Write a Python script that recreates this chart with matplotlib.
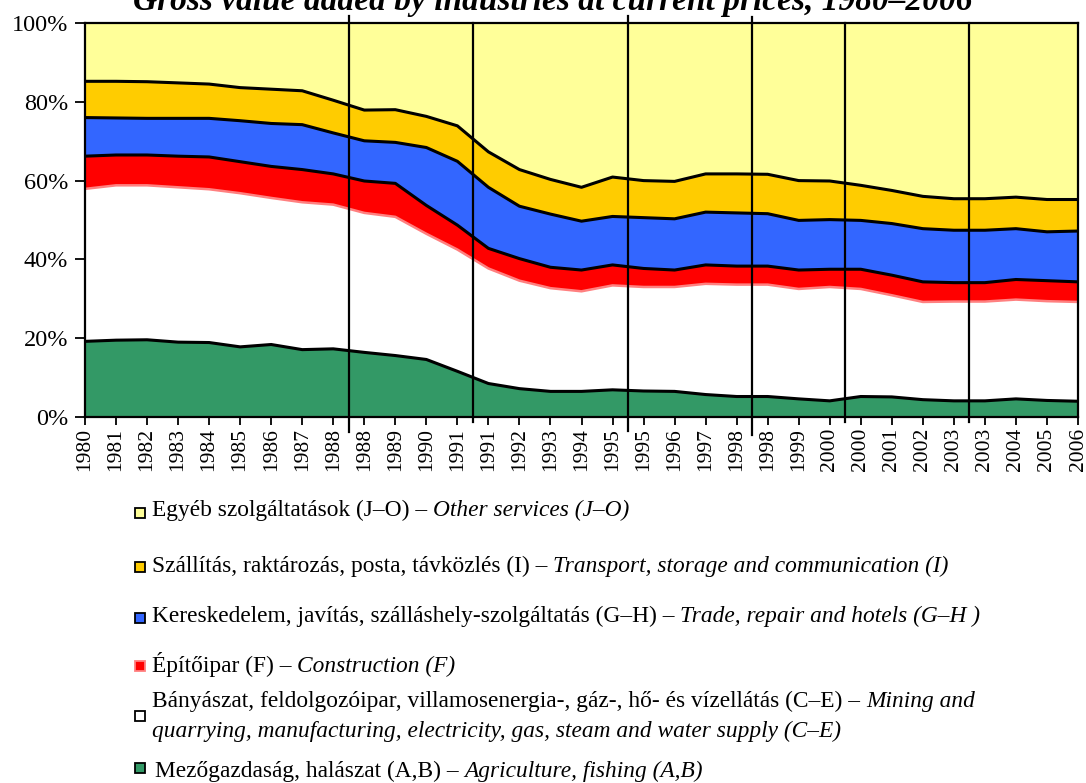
import numpy as np
import matplotlib
matplotlib.use('Agg')
import matplotlib.pyplot as plt
from matplotlib.patches import Rectangle

plt.rcParams['font.family'] = ['Liberation Serif', 'DejaVu Serif']

# category axis (duplicate years = break in the series)
years = ['1980', '1981', '1982', '1983', '1984', '1985', '1986', '1987', '1988',
         '1988', '1989', '1990', '1991',
         '1991', '1992', '1993', '1994', '1995',
         '1995', '1996', '1997', '1998',
         '1998', '1999', '2000',
         '2000', '2001', '2002', '2003',
         '2003', '2004', '2005', '2006']

# shares of gross value added, %
agri = [19.2, 19.5, 19.6, 19.0, 18.9, 17.8, 18.4, 17.1, 17.3,
        16.4, 15.6, 14.6, 11.6,
        8.5, 7.2, 6.5, 6.5, 6.9,
        6.6, 6.5, 5.7, 5.2,
        5.2, 4.6, 4.1,
        5.2, 5.1, 4.4, 4.1,
        4.1, 4.6, 4.2, 4.0]
mining = [38.7, 39.3, 39.2, 39.3, 38.9, 39.0, 37.2, 37.4, 36.6,
          35.4, 35.2, 31.9, 30.9,
          29.2, 27.4, 26.2, 25.4, 26.5,
          26.4, 26.5, 28.1, 28.4,
          28.4, 27.9, 28.9,
          27.3, 25.8, 24.8, 25.2,
          25.2, 25.2, 25.2, 25.2]
constr = [8.3, 7.7, 7.7, 7.9, 8.2, 8.0, 8.0, 8.3, 7.8,
          8.1, 8.5, 7.2, 6.2,
          5.1, 5.6, 5.3, 5.4, 5.2,
          4.7, 4.3, 4.8, 4.7,
          4.7, 4.8, 4.5,
          5.0, 5.1, 5.1, 4.8,
          4.8, 5.1, 5.2, 5.1]
trade = [9.8, 9.4, 9.3, 9.6, 9.8, 10.4, 10.9, 11.4, 10.4,
         10.2, 10.4, 14.7, 16.2,
         15.5, 13.3, 13.5, 12.4, 12.3,
         12.9, 13.0, 13.4, 13.5,
         13.3, 12.6, 12.6,
         12.4, 13.1, 13.5, 13.3,
         13.3, 12.9, 12.4, 12.9]
transport = [9.2, 9.3, 9.3, 9.0, 8.7, 8.4, 8.7, 8.6, 8.3,
             7.8, 8.3, 7.9, 9.0,
             9.0, 9.3, 8.8, 8.6, 10.0,
             9.4, 9.5, 9.7, 9.9,
             10.0, 10.1, 9.8,
             8.9, 8.4, 8.2, 8.0,
             8.0, 8.0, 8.2, 8.0]
other = [14.8, 14.8, 14.9, 15.2, 15.5, 16.4, 16.8, 17.2, 19.6,
         22.1, 22.0, 23.7, 26.1,
         32.7, 37.2, 39.7, 41.7, 39.1,
         40.0, 40.2, 38.3, 38.3,
         38.4, 40.0, 40.1,
         41.2, 42.5, 44.0, 44.6,
         44.6, 44.2, 44.8, 44.8]

legend_rows = [
    ('Egyéb szolgáltatások (J–O) –', 'Other services (J–O)'),
    ('Szállítás, raktározás, posta, távközlés (I) –', 'Transport, storage and communication (I)'),
    ('Kereskedelem, javítás, szálláshely-szolgáltatás (G–H) –', 'Trade, repair and hotels (G–H )'),
    ('Építőipar (F) –', 'Construction (F)'),
    ('Bányászat, feldolgozóipar, villamosenergia-, gáz-, hő- és vízellátás (C–E) –', 'Mining and'),
    ('Mezőgazdaság, halászat (A,B) –', 'Agriculture, fishing (A,B)'),
]
mining_line2 = 'quarrying, manufacturing, electricity, gas, steam and water supply (C–E)'
title = 'Gross value added by industries at current prices, 1980–2006'

colors = ['#339966', '#FFFFFF', '#FF0000', '#3366FF', '#FFCC00', '#FFFF99']
legend_colors = ['#FFFF99', '#FFCC00', '#3366FF', '#FF0000', '#FFFFFF', '#339966']
legend_edges = ['k', 'k', 'k', '#FF8080', 'k', 'k']

W, H = 1086, 783
fig = plt.figure(figsize=(W / 100, H / 100), dpi=100)
ax = fig.add_axes([85 / W, 1 - 417 / H, (1078 - 85) / W, (417 - 23) / H])

x = np.arange(len(years))
series = [agri, mining, constr, trade, transport, other]
ax.stackplot(x, *series, colors=colors, linewidth=0)
cum = np.cumsum(np.array(series), axis=0)
for k in [0, 2, 3, 4]:
    ax.plot(x, cum[k], color='k', lw=2.2, solid_joinstyle='round')
ax.plot(x, cum[1], color='#FF8080', lw=1.8)

ax.set_xlim(0, len(years) - 1)
ax.set_ylim(0, 100)
ax.set_yticks(np.arange(0, 101, 20))
ax.set_yticklabels(['%d%%' % v for v in range(0, 101, 20)], fontsize=17.5)
ax.set_xticks(x)
ax.set_xticklabels(years, rotation=90, fontsize=15.5)
ax.tick_params(axis='y', direction='out', length=7, width=1.3, pad=5)
ax.tick_params(axis='x', direction='out', length=6, width=1.3, pad=2)
for s in ax.spines.values():
    s.set_linewidth(1.6)

# period separators between duplicated years
sep_ext = [(101.8, -3.9), (100, -1.3), (101.8, -3.6), (101.6, -4.6), (100, -1.3), (100, -1.3)]
seps = [i + 0.5 for i in range(len(years) - 1) if years[i] == years[i + 1]]
for xs, (top, bot) in zip(seps, sep_ext):
    ax.plot([xs, xs], [bot, top], color='k', lw=1.6, clip_on=False, zorder=5)

# title is partly cut off by the top edge, as in the source
fig.text(553 / W, 1 - 10 / H, title, fontsize=24, fontweight='bold', fontstyle='italic',
         ha='center', va='baseline')

# legend drawn by hand
renderer = fig.canvas.get_renderer()
inv = fig.transFigure.inverted()
fs = 16.8
gap = 0.25 * fs * 100 / 72
text_y = [509, 565, 615, 665, 700, 770]
mark_y = [513, 567, 618, 666, 716, 768]
text_x = [152, 152, 152, 152, 152, 155]
for (reg, ita), ty, my, tx, fc, ec in zip(legend_rows, text_y, mark_y, text_x,
                                          legend_colors, legend_edges):
    base = 1 - (ty + 7) / H
    t = fig.text(tx / W, base, reg, fontsize=fs, va='baseline', ha='left')
    bb = t.get_window_extent(renderer)
    x2 = inv.transform((bb.x1 + gap, 0))[0]
    fig.text(x2, base, ita, fontsize=fs, fontstyle='italic', va='baseline', ha='left')
    sz = 10
    fig.add_artist(Rectangle(((140 - sz / 2) / W, 1 - (my + sz / 2) / H), sz / W, sz / H,
                             transform=fig.transFigure, facecolor=fc, edgecolor=ec, lw=1.3))
fig.text(152 / W, 1 - (730 + 7) / H, mining_line2, fontsize=fs, fontstyle='italic',
         va='baseline', ha='left')

fig.savefig('out.png', dpi=100)
